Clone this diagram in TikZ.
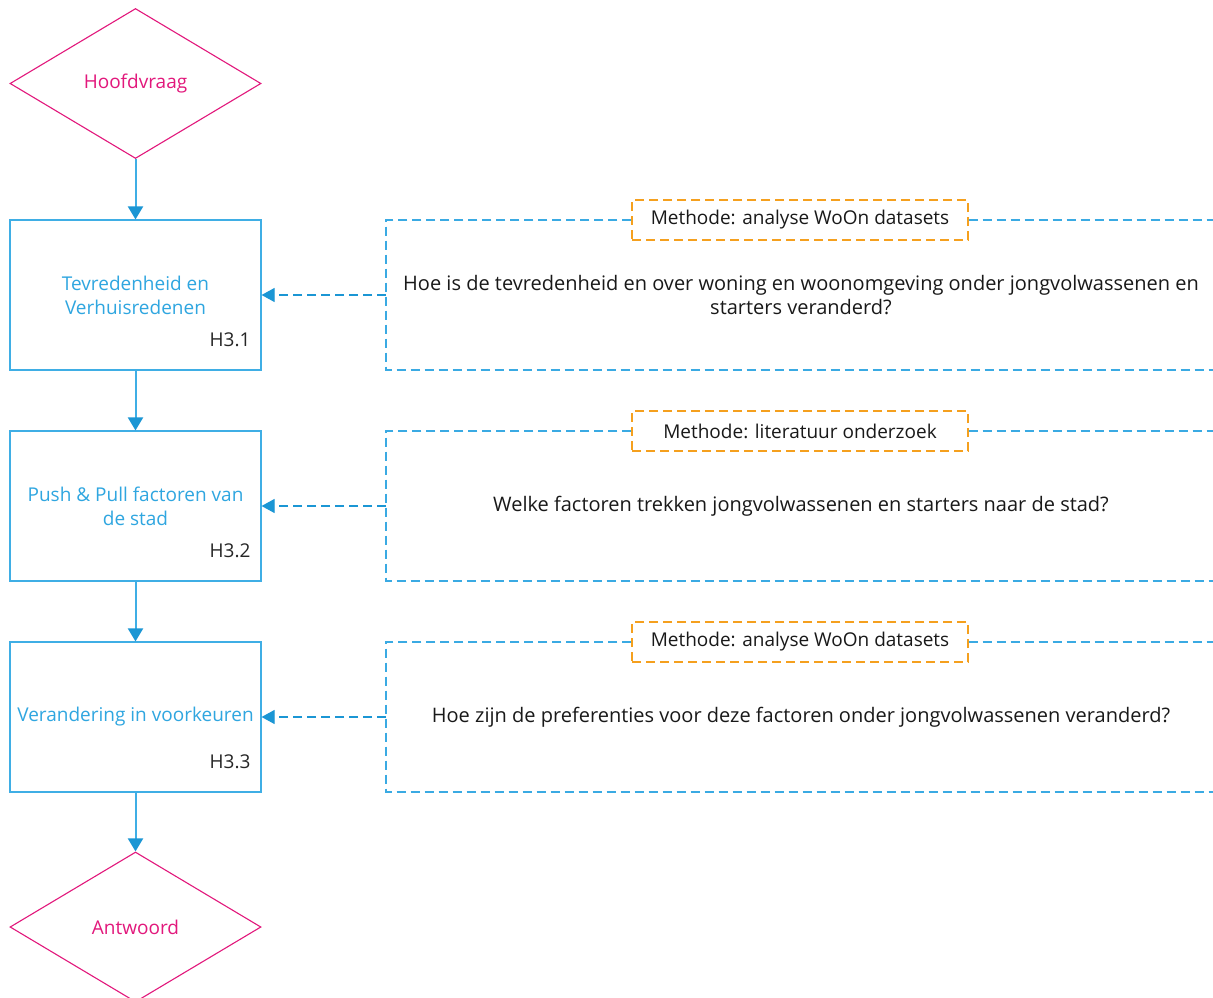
\documentclass[tikz,border=0pt]{standalone}
\usepackage{fontspec}
\setmainfont{Open Sans}
\usetikzlibrary{shapes.geometric,arrows.meta,positioning}
\definecolor{pinkc}{HTML}{E2187C}
\definecolor{boxblue}{HTML}{3FAEE5}
\definecolor{arrblue}{HTML}{1B96D4}
\definecolor{txtblue}{HTML}{2FA6E0}
\definecolor{orangec}{HTML}{F5A01E}
\definecolor{dashblue}{HTML}{3AAAE3}
\tikzset{
  decision/.style={diamond, draw=pinkc, line width=1.1pt, text=pinkc, minimum width=251pt, minimum height=150pt, aspect=1.673, inner sep=0pt, font=\fontsize{19}{23}\selectfont},
  hbox/.style={rectangle, draw=boxblue, line width=1.2pt, minimum width=251pt, minimum height=150pt, inner sep=0pt},
  htext/.style={text=txtblue, align=center, font=\fontsize{19}{24}\selectfont},
  hcode/.style={text=black!85, font=\fontsize{19}{23}\selectfont, anchor=east},
  flow/.style={draw=boxblue, line width=2pt, -{Triangle[length=13pt,width=15pt,color=arrblue]}},
  dashedge/.style={draw=dashblue, line width=1.1pt, dash pattern=on 9pt off 5pt},
  feed/.style={draw=arrblue, line width=1.1pt, dash pattern=on 9pt off 5pt, -{Triangle[length=13pt,width=14pt,color=arrblue]}},
  method/.style={rectangle, draw=orangec, line width=1.1pt, dash pattern=on 9pt off 5pt, minimum width=336pt, minimum height=40pt, inner sep=0pt, font=\fontsize{19}{23}\selectfont, text=black!90},
  question/.style={align=center, text=black!90, font=\fontsize{20}{24}\selectfont}
}
\begin{document}
\begin{tikzpicture}[x=1pt,y=-1pt]
\clip (0,0) rectangle (1213,998);
\fill[white] (0,0) rectangle (1213,998);

\node[decision] (hv) at (135.5,83.5) {Hoofdvraag};
\node[hbox] (b1) at (135.5,295) {};
\node[hbox] (b2) at (135.5,506) {};
\node[hbox] (b3) at (135.5,717) {};
\node[decision] (aw) at (135.5,927) {Antwoord};

\node[htext] (t1) at (135.5,295) {Tevredenheid en\\Verhuisredenen};
\node[htext] (t2) at (135.5,506) {Push \& Pull factoren van\\de stad};
\node[htext] (t3) at (135.5,717) {Verandering in voorkeuren};
\node[hcode] (c1) at (254,340) {H3.1};
\node[hcode] (c2) at (254,551) {H3.2};
\node[hcode] (c3) at (254,762) {H3.3};

\draw[flow] (hv.south) -- (b1.north);
\draw[flow] (b1.south) -- (b2.north);
\draw[flow] (b2.south) -- (b3.north);
\draw[flow] (b3.south) -- (aw.north);

% region 1
\coordinate (r1tl) at (386,220);
\coordinate (r1bl) at (386,370);
\coordinate (r1tr) at (1213,220);
\coordinate (r1br) at (1213,370);
\coordinate (r1m) at (386,295);
\node[method] (m1) at (800,220) {Methode: analyse WoOn datasets};
\node[question] (q1) at (801,295) {Hoe is de tevredenheid en over woning en woonomgeving onder jongvolwassenen en\\starters veranderd?};
\draw[dashedge] (m1.west) -- (r1tl) -- (r1bl) -- (r1br);
\draw[dashedge] (m1.east) -- (r1tr);
\draw[feed] (r1m) -- (b1.east);

% region 2
\coordinate (r2tl) at (386,431);
\coordinate (r2bl) at (386,581);
\coordinate (r2tr) at (1213,431);
\coordinate (r2br) at (1213,581);
\coordinate (r2m) at (386,506);
\node[method] (m2) at (800,431) {Methode: literatuur onderzoek};
\node[question] (q2) at (801,506) {Welke factoren trekken jongvolwassenen en starters naar de stad?};
\draw[dashedge] (m2.west) -- (r2tl) -- (r2bl) -- (r2br);
\draw[dashedge] (m2.east) -- (r2tr);
\draw[feed] (r2m) -- (b2.east);

% region 3
\coordinate (r3tl) at (386,642);
\coordinate (r3bl) at (386,792);
\coordinate (r3tr) at (1213,642);
\coordinate (r3br) at (1213,792);
\coordinate (r3m) at (386,717);
\node[method] (m3) at (800,642) {Methode: analyse WoOn datasets};
\node[question] (q3) at (801,717) {Hoe zijn de preferenties voor deze factoren onder jongvolwassenen veranderd?};
\draw[dashedge] (m3.west) -- (r3tl) -- (r3bl) -- (r3br);
\draw[dashedge] (m3.east) -- (r3tr);
\draw[feed] (r3m) -- (b3.east);
\end{tikzpicture}
\end{document}
